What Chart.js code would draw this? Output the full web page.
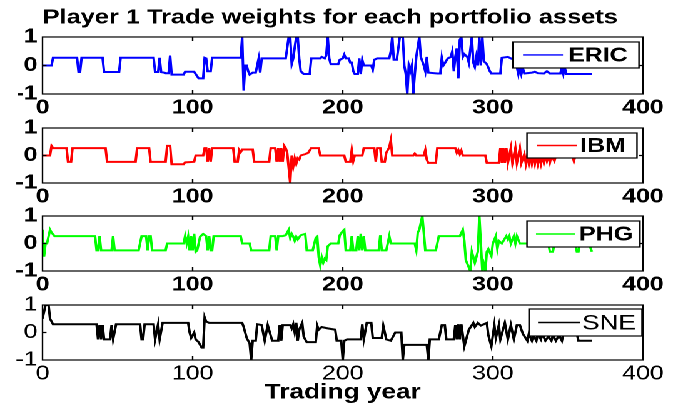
<!DOCTYPE html>
<html><head><meta charset="utf-8">
<script src="https://cdn.jsdelivr.net/npm/chart.js@4.4.0/dist/chart.umd.min.js"></script>
<style>
html,body{margin:0;padding:0;background:#fff;overflow:hidden;width:678px;height:407px;}
#wrap{position:absolute;left:0;top:0;width:542px;height:407px;transform:scaleX(1.2509225);transform-origin:0 0;}
canvas{position:absolute;left:0;}
</style></head><body>
<div id="wrap">
<canvas id="c1" width="542" height="120" style="top:0px"></canvas>
<canvas id="c2" width="542" height="97" style="top:112px"></canvas>
<canvas id="c3" width="542" height="97" style="top:200px"></canvas>
<canvas id="c4" width="542" height="118" style="top:289px"></canvas>
</div>
<script>
// ---- data (trading day, weight) ----
const xTicks = [0, 100, 200, 300, 400];
const yTicks = [-1, 0, 1];

const ericDays = [0,6,7,23,24,25,26,40,41,51,52,74,75,77,78,79,81,82,84,85,86,94,95,101,102,104,107,108,109,110,112,113,132,133,134,135,136,137,138,140,142,143,144,145,146,162,164,165,166,167,169,170,171,172,174,178,179,185,186,188,189,190,191,192,197,198,200,201,202,204,205,206,207,208,210,211,212,213,214,219,220,221,223,231,232,233,234,236,237,238,240,241,242,243,244,245,246,247,248,249,251,252,254,255,256,257,263,265,266,267,270,272,273,274,275,276,277,278,279,280,281,282,283,284,286,287,288,289,290,291,292,293,294,296,298,299,305,306,310,312,314,316,317,318,319,320,321,326,328,330,334,336,338,345,346,347,348,349,366];
const ericWeights = [0,0,0.27,0.27,-0.23,-0.23,0.27,0.27,-0.23,-0.23,0.27,0.27,-0.23,-0.23,0.27,-0.23,-0.25,-0.27,-0.27,0.35,-0.32,-0.32,-0.22,-0.22,-0.3,-0.45,-0.45,0.27,0.25,-0.2,-0.2,0.27,0.27,1,-0.88,0,0,-0.2,-0.32,-0.25,-0.25,0,0.25,-0.25,0.25,0.25,1,1,0.05,0.25,1,1,0.25,-0.2,-0.3,-0.3,0.25,0.25,0.3,0.25,0.35,1,0.25,0.05,0.05,0.2,0.25,0.38,0.25,0.25,0.1,0.1,-0.2,-0.3,-0.3,0.25,-0.3,0.2,0,0,-0.15,0.2,0.25,0.25,0.5,1,0.2,0.2,0.6,1,1,0,-0.3,-1,0,-0.2,0,-1,-0.3,0.3,1,0.3,0,-0.2,0.3,-0.25,-0.28,-0.28,0.27,0,0.25,0.3,0.5,-0.2,0.3,0.6,-0.45,0.9,1,0.3,0.4,0.35,0.3,0.1,1,0.1,-0.05,0.3,0,1,0,1,0.15,0.05,-0.2,-0.28,-0.28,0.27,0.3,0.25,0.2,-0.05,-0.3,-0.05,-0.3,-0.1,-0.28,-0.25,-0.22,-0.27,-0.28,-0.2,-0.28,-0.28,-0.05,-0.3,-0.1,-0.3,-0.3];

const ibmDays = [0,5,6,7,16,17,19,20,42,43,62,63,71,72,82,83,85,86,94,95,101,102,107,108,109,110,111,112,113,127,128,130,131,132,133,140,141,151,152,155,156,157,158,159,160,161,162,163,165,166,167,168,169,170,171,172,175,177,179,184,185,201,202,205,206,207,208,213,214,221,222,223,225,226,228,229,231,232,233,247,248,249,254,255,256,257,262,263,275,276,277,278,279,280,295,296,304,305,306,307,308,309,310,312,313,315,316,318,319,321,322,323,324,325,326,327,328,329,330,331,332,333,334,335,336,337,338,339,341,342,353,354,355,366];
const ibmWeights = [0,0,0.35,0.27,0.27,-0.23,-0.23,0.27,0.27,-0.23,-0.23,0.27,0.27,-0.23,-0.23,0.35,0.35,-0.32,-0.32,-0.25,-0.23,0,0,0.27,0.27,-0.23,0.27,-0.23,0.27,0.27,-0.23,-0.23,0.2,0.12,0.22,0.22,-0.23,-0.23,0.27,0.27,-0.23,0.27,-0.23,0.27,-0.23,0.35,0.27,0.1,-1,0,-0.4,-0.1,-0.3,-0.1,-0.15,0,0.05,0.1,0.27,0.27,0,0,-0.23,-0.23,0.2,-0.2,0,0,0.27,0.27,-0.23,0.27,0.27,-0.23,-0.23,0.1,0.3,0.55,0,0,0.07,0,0,0.2,-0.15,-0.27,-0.27,0.27,0.27,0.1,0.2,0.05,0.18,0,0,-0.27,-0.27,0.27,-0.27,0.27,-0.27,0.27,-0.27,0.27,-0.27,0.27,-0.27,0.27,-0.27,0.05,-0.3,0,-0.3,0,-0.3,0,-0.3,0,-0.3,-0.05,-0.3,0,-0.25,0,-0.2,0,-0.25,0,-0.2,0,0,-0.2,0,0];

const phgDays = [0,1,2,3,4,5,6,8,35,36,37,38,39,46,47,48,64,66,69,70,71,72,73,82,83,94,95,96,97,98,99,100,101,102,103,104,105,106,107,109,110,111,112,113,114,132,133,138,139,151,152,155,156,157,160,162,164,165,166,167,168,169,170,172,175,176,180,182,183,184,185,186,187,188,189,190,192,197,198,200,201,202,205,206,207,209,210,211,212,213,214,215,224,225,226,229,231,232,248,249,250,251,253,254,255,262,263,264,278,280,281,282,285,286,288,290,291,293,294,295,296,297,299,300,302,303,304,306,309,310,311,312,314,315,316,318,337,338,340,341,355,356,357,358,364,366];
const phgWeights = [0.5,-0.48,0,0,0.25,0.5,0.4,0.27,0.27,-0.25,-0.25,0.27,-0.25,-0.25,0.27,-0.25,-0.25,0.27,0.27,-0.25,0.27,0.27,-0.25,-0.25,0,0,0.27,0,0.25,-0.25,0.27,-0.25,0.35,-0.3,-0.25,0,0.25,0.3,0.35,0.27,-0.25,0.27,-0.25,-0.25,0.27,0.27,0,0,-0.25,-0.25,0.27,0.27,-0.25,0.27,0.27,0.3,0.5,0.2,0.35,0.25,0.1,0.25,0.15,0.3,0.35,-0.25,-0.25,0.2,0.25,-0.5,-0.8,-0.5,-0.7,-0.55,-0.6,-0.1,0,0,0.3,0.45,0.5,-0.25,-0.25,0.27,-0.25,-0.25,0.27,-0.25,0.35,-0.25,0.27,-0.25,-0.25,0.3,-0.25,-0.25,0.27,0,0,-0.25,0.4,0.5,1,0.4,-0.25,-0.25,0,0.27,0.27,0.5,0.1,-0.6,-1,-0.3,-0.7,-0.3,1,-1,-0.75,-1,-0.3,-0.2,-0.45,0,0.27,-0.2,0.1,0,0.27,0.15,0.27,0,0.27,0,0.27,0,0,-0.3,-0.3,0,0,-0.3,-0.3,0,0,-0.3];

const sneDays = [0,2,4,5,7,36,37,38,39,40,41,45,46,47,49,65,66,67,68,74,75,77,78,80,97,98,99,101,102,104,105,106,107,108,109,111,133,134,136,138,139,140,142,143,146,148,150,153,157,158,159,160,165,166,167,168,169,170,171,173,174,176,182,183,184,186,190,195,196,199,200,201,203,212,213,214,216,219,220,226,227,229,232,235,239,240,241,256,257,258,264,266,268,269,274,275,276,277,278,279,281,284,287,288,290,292,294,296,297,299,301,302,304,305,308,310,312,314,316,318,320,323,324,326,327,329,330,332,333,335,337,339,340,342,344,346,347,356,357,366];
const sneWeights = [0.5,1,1,0.5,0.3,0.3,-0.25,0.27,-0.25,0.27,-0.25,-0.25,0.27,-0.25,0.3,0.3,-0.25,-0.25,0.3,0.3,-0.25,0.3,-0.25,0.35,0.35,0,-0.2,0,-0.25,-0.35,-0.45,-0.55,-0.55,0.55,0.4,0.35,0.35,0.2,-0.2,-0.4,-1,-0.3,-0.3,0.3,0.27,-0.3,0.27,-0.3,-0.3,0.27,-0.3,0.27,0.27,0.15,0.3,0,0.35,-0.3,0.1,0.35,-0.15,-0.35,-0.35,0.25,0.1,0.2,0.15,0.1,-0.3,-0.3,-1,-0.3,-0.25,-0.25,0.3,-0.25,0.35,0.35,-0.2,-0.2,0.25,-0.25,-0.3,0,0,-1,-0.45,-0.45,-1,-0.25,-0.25,0.27,0.27,-0.25,-0.25,0.27,-0.25,0.3,-0.25,0.3,-0.5,0.1,0.35,0.2,0.35,0.25,0.3,0.35,-0.1,-0.5,0.27,-0.2,0.27,-0.25,0.35,-0.25,0.27,-0.25,0.27,0.27,-0.05,-0.3,-0.05,-0.3,-0.1,-0.3,-0.05,-0.25,-0.05,-0.3,-0.15,-0.3,-0.1,-0.3,-0.1,-0.3,-0.05,-0.05,-0.3,-0.3];

// ---- rendering ----
const S = 678 / 542; // horizontal stretch of the original figure
const FAMILY = '"Liberation Sans", Arial, Helvetica, sans-serif';
Chart.defaults.font.family = FAMILY;
Chart.defaults.color = '#000';

const frame = {
  id: 'frame',
  afterDatasetsDraw(chart) {
    const {ctx, chartArea: a, scales: {x, y}} = chart;
    ctx.save();
    ctx.strokeStyle = '#000';
    ctx.lineWidth = 1.2;
    ctx.strokeRect(a.left, a.top, a.right - a.left, a.bottom - a.top);
    ctx.beginPath();
    for (const v of xTicks.slice(1, -1)) {
      const p = x.getPixelForValue(v);
      ctx.moveTo(p, a.top); ctx.lineTo(p, a.top + 4);
      ctx.moveTo(p, a.bottom); ctx.lineTo(p, a.bottom - 4);
    }
    const py = y.getPixelForValue(0);
    ctx.moveTo(a.left, py); ctx.lineTo(a.left + 3.2, py);
    ctx.moveTo(a.right, py); ctx.lineTo(a.right - 3.2, py);
    ctx.stroke();
    ctx.restore();
  }
};

const boxLegend = {
  id: 'boxLegend',
  afterDraw(chart, args, o) {
    const {ctx, chartArea: a} = chart;
    const ds = chart.data.datasets[0];
    const l = o.left / S, r = o.right / S, t = a.top + o.top, h = o.h;
    ctx.save();
    ctx.fillStyle = '#fff';
    ctx.fillRect(l, t, r - l, h);
    ctx.strokeStyle = '#000';
    ctx.lineWidth = 1.2;
    ctx.strokeRect(l, t, r - l, h);
    const cy = t + h / 2;
    ctx.strokeStyle = ds.borderColor;
    ctx.lineWidth = 1.4;
    ctx.beginPath();
    ctx.moveTo(o.line[0] / S, cy); ctx.lineTo(o.line[1] / S, cy);
    ctx.stroke();
    ctx.fillStyle = '#000';
    ctx.font = o.font;
    ctx.textBaseline = 'middle';
    ctx.textAlign = 'left';
    ctx.fillText(ds.label, o.textX / S, cy + 1);
    ctx.restore();
  }
};

function makePanel(id, label, color, days, weights, cfg) {
  const padLeft = cfg.padLeft || 0;
  return new Chart(document.getElementById(id), {
    type: 'line',
    data: {
      datasets: [{
        label,
        data: days.map((d, i) => ({x: d, y: weights[i]})),
        borderColor: color,
        borderWidth: 2,
        pointRadius: 0,
        tension: 0,
        fill: false
      }]
    },
    options: {
      responsive: false,
      animation: false,
      devicePixelRatio: 2,
      layout: {padding: {top: cfg.padTop, right: 28, left: padLeft, bottom: 0}},
      plugins: {
        legend: {display: false},
        tooltip: {enabled: false},
        title: cfg.title || {display: false},
        boxLegend: cfg.legend
      },
      scales: {
        x: {
          type: 'linear', min: 0, max: 400,
          grid: {display: false, drawTicks: false},
          border: {display: false},
          afterBuildTicks(s) { s.ticks = xTicks.map(v => ({value: v})); },
          ticks: {padding: cfg.xPad, color: '#000', font: cfg.tickFont, maxRotation: 0, autoSkip: false},
          title: cfg.xTitle || {display: false},
          afterFit(s) { s.height = cfg.xh; }
        },
        y: {
          min: -1, max: 1,
          grid: {display: false, drawTicks: false},
          border: {display: false},
          afterBuildTicks(s) { s.ticks = yTicks.map(v => ({value: v})); },
          ticks: {padding: 4, color: '#000', font: cfg.tickFont},
          afterFit(s) { s.width = 34 - padLeft; }
        }
      }
    },
    plugins: [frame, boxLegend]
  });
}

const boldTick = {size: 20, weight: 'bold'};
const normTick = {size: 20, weight: 'normal'};

makePanel('c1', 'ERIC', '#0000ff', ericDays, ericWeights, {
  padTop: 0, padLeft: 14, xh: 26, xPad: 2, tickFont: boldTick,
  title: {display: true, text: 'Player 1 Trade weights for each portfolio assets', color: '#000',
          font: {size: 20.3, weight: 'bold', lineHeight: 1.29}, padding: {top: 5, bottom: 5.8}},
  legend: {left: 513, right: 639, top: 5, h: 26, line: [523, 563], textX: 568, font: 'bold 20px ' + FAMILY}
});
makePanel('c2', 'IBM', '#ff0000', ibmDays, ibmWeights, {
  padTop: 14, xh: 26, xPad: 2, tickFont: boldTick,
  legend: {left: 527, right: 637, top: 5, h: 25, line: [537, 577], textX: 580, font: 'bold 20px ' + FAMILY}
});
makePanel('c3', 'PHG', '#00ff00', phgDays, phgWeights, {
  padTop: 14, xh: 26, xPad: 2, tickFont: boldTick,
  legend: {left: 527, right: 640, top: 5, h: 26, line: [536, 575], textX: 579, font: 'bold 20px ' + FAMILY}
});
makePanel('c4', 'SNE', '#000000', sneDays, sneWeights, {
  padTop: 14, xh: 47, xPad: 2, tickFont: normTick,
  xTitle: {display: true, text: 'Trading year', color: '#000', font: {size: 21, weight: 'bold'}, padding: {top: 0, bottom: 1.5}},
  legend: {left: 529, right: 642, top: 4, h: 27, line: [538, 580], textX: 582, font: '21px ' + FAMILY}
});
</script>
</body></html>
